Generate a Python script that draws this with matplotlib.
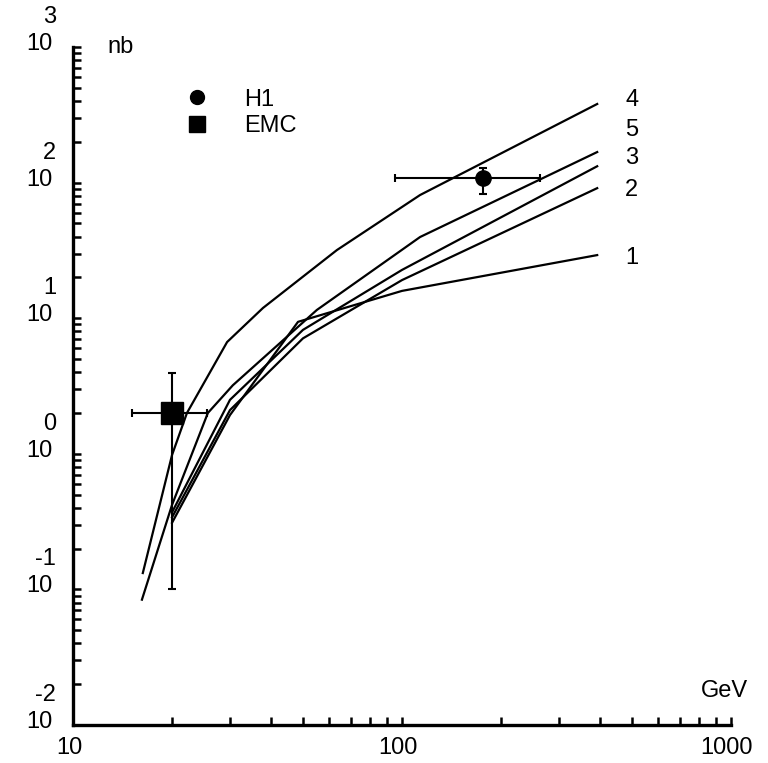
import matplotlib
matplotlib.use("Agg")
import matplotlib.pyplot as plt
from matplotlib.lines import Line2D

plt.rcParams["font.family"] = ["Liberation Sans", "DejaVu Sans"]

# curvas teoricas (GeV, nb)
curve_x = {
  "4": [16.3, 20, 22.2, 29.4, 37.8, 63.4, 113.5, 392],
  "5": [16.2, 20, 25.7, 30.6, 55.1, 113.5, 392],
  "3": [20, 30, 50, 100, 392],
  "2": [20, 30, 50, 100, 392],
  "1": [20, 30, 48.3, 100, 392],
}
curve_y = {
  "4": [0.132, 0.98, 2.0, 6.67, 11.9, 31.8, 81, 380],
  "5": [0.084, 0.42, 2.0, 3.2, 11.5, 39.7, 168],
  "3": [0.37, 2.5, 8.2, 22.7, 132],
  "2": [0.34, 2.1, 7.1, 19.1, 91],
  "1": [0.31, 1.93, 9.4, 15.9, 29.2],
}

# datos experimentales
h1_x, h1_y = 176, 108
h1_xerr = [[81], [86]]
h1_yerr = [[25], [21]]
emc_x, emc_y = 20, 2.0
emc_xerr = [[4.9], [5.5]]
emc_yerr = [[1.9], [1.94]]

y_decades = [-2, -1, 0, 1, 2, 3]
x_labels = [10, 100, 1000]

# desplazamiento vertical de los numeros de las curvas (pixeles)
label_dy = {"4": 4, "5": 22, "3": 8, "2": -2, "1": -3}

fig = plt.figure(figsize=(7.68, 7.63), dpi=100)
ax = fig.add_axes([73 / 768, 38 / 763, 658 / 768, 678 / 763])
ax.set_xscale("log")
ax.set_yscale("log")
ax.set_xlim(10, 1000)
ax.set_ylim(1e-2, 1e3)

for name in curve_x:
  ax.plot(curve_x[name], curve_y[name], color="black", lw=1.6)
  ax.annotate(name, xy=(curve_x[name][-1], curve_y[name][-1]),
              xytext=(28, label_dy[name]), textcoords="offset pixels",
              ha="left", va="center", fontsize=17)

ax.errorbar(h1_x, h1_y, xerr=h1_xerr, yerr=h1_yerr, fmt="o", color="black",
            ms=11, elinewidth=1.5, capsize=3, capthick=1.5)
ax.errorbar(emc_x, emc_y, xerr=emc_xerr, yerr=emc_yerr, fmt="s", color="black",
            ms=16, elinewidth=1.5, capsize=3, capthick=1.5)

handles = [
  Line2D([], [], marker="o", color="black", ls="none", ms=10),
  Line2D([], [], marker="s", color="black", ls="none", ms=11),
]
ax.legend(handles, ["H1", "EMC"], loc="upper left", bbox_to_anchor=(0.12, 0.97),
          frameon=False, fontsize=17, handletextpad=1.0, labelspacing=0.2)

# ejes
for side in ["top", "right"]:
  ax.spines[side].set_visible(False)
for side in ["left", "bottom"]:
  ax.spines[side].set_linewidth(2.4)
ax.tick_params(which="both", direction="in", width=1.8, length=6,
               labelleft=False, labelbottom=False)

# etiquetas de los ejes
for k in y_decades:
  ax.annotate("10", xy=(0, 10.0 ** k), xycoords=("axes fraction", "data"),
              xytext=(-20, 3), textcoords="offset pixels",
              ha="right", va="center", fontsize=17, annotation_clip=False)
  ax.annotate(str(k), xy=(0, 10.0 ** k), xycoords=("axes fraction", "data"),
              xytext=(-17, 30), textcoords="offset pixels",
              ha="right", va="center", fontsize=17, annotation_clip=False)
for v in x_labels:
  ax.annotate(str(v), xy=(v, 0), xycoords=("data", "axes fraction"),
              xytext=(-4, -23), textcoords="offset pixels",
              ha="center", va="center", fontsize=17, annotation_clip=False)

ax.text(0.052, 1.0, "nb", transform=ax.transAxes, ha="left", va="center", fontsize=17)
ax.text(0.99, 0.05, "GeV", transform=ax.transAxes, ha="center", va="center", fontsize=17)

plt.savefig("out.png")
plt.close()
